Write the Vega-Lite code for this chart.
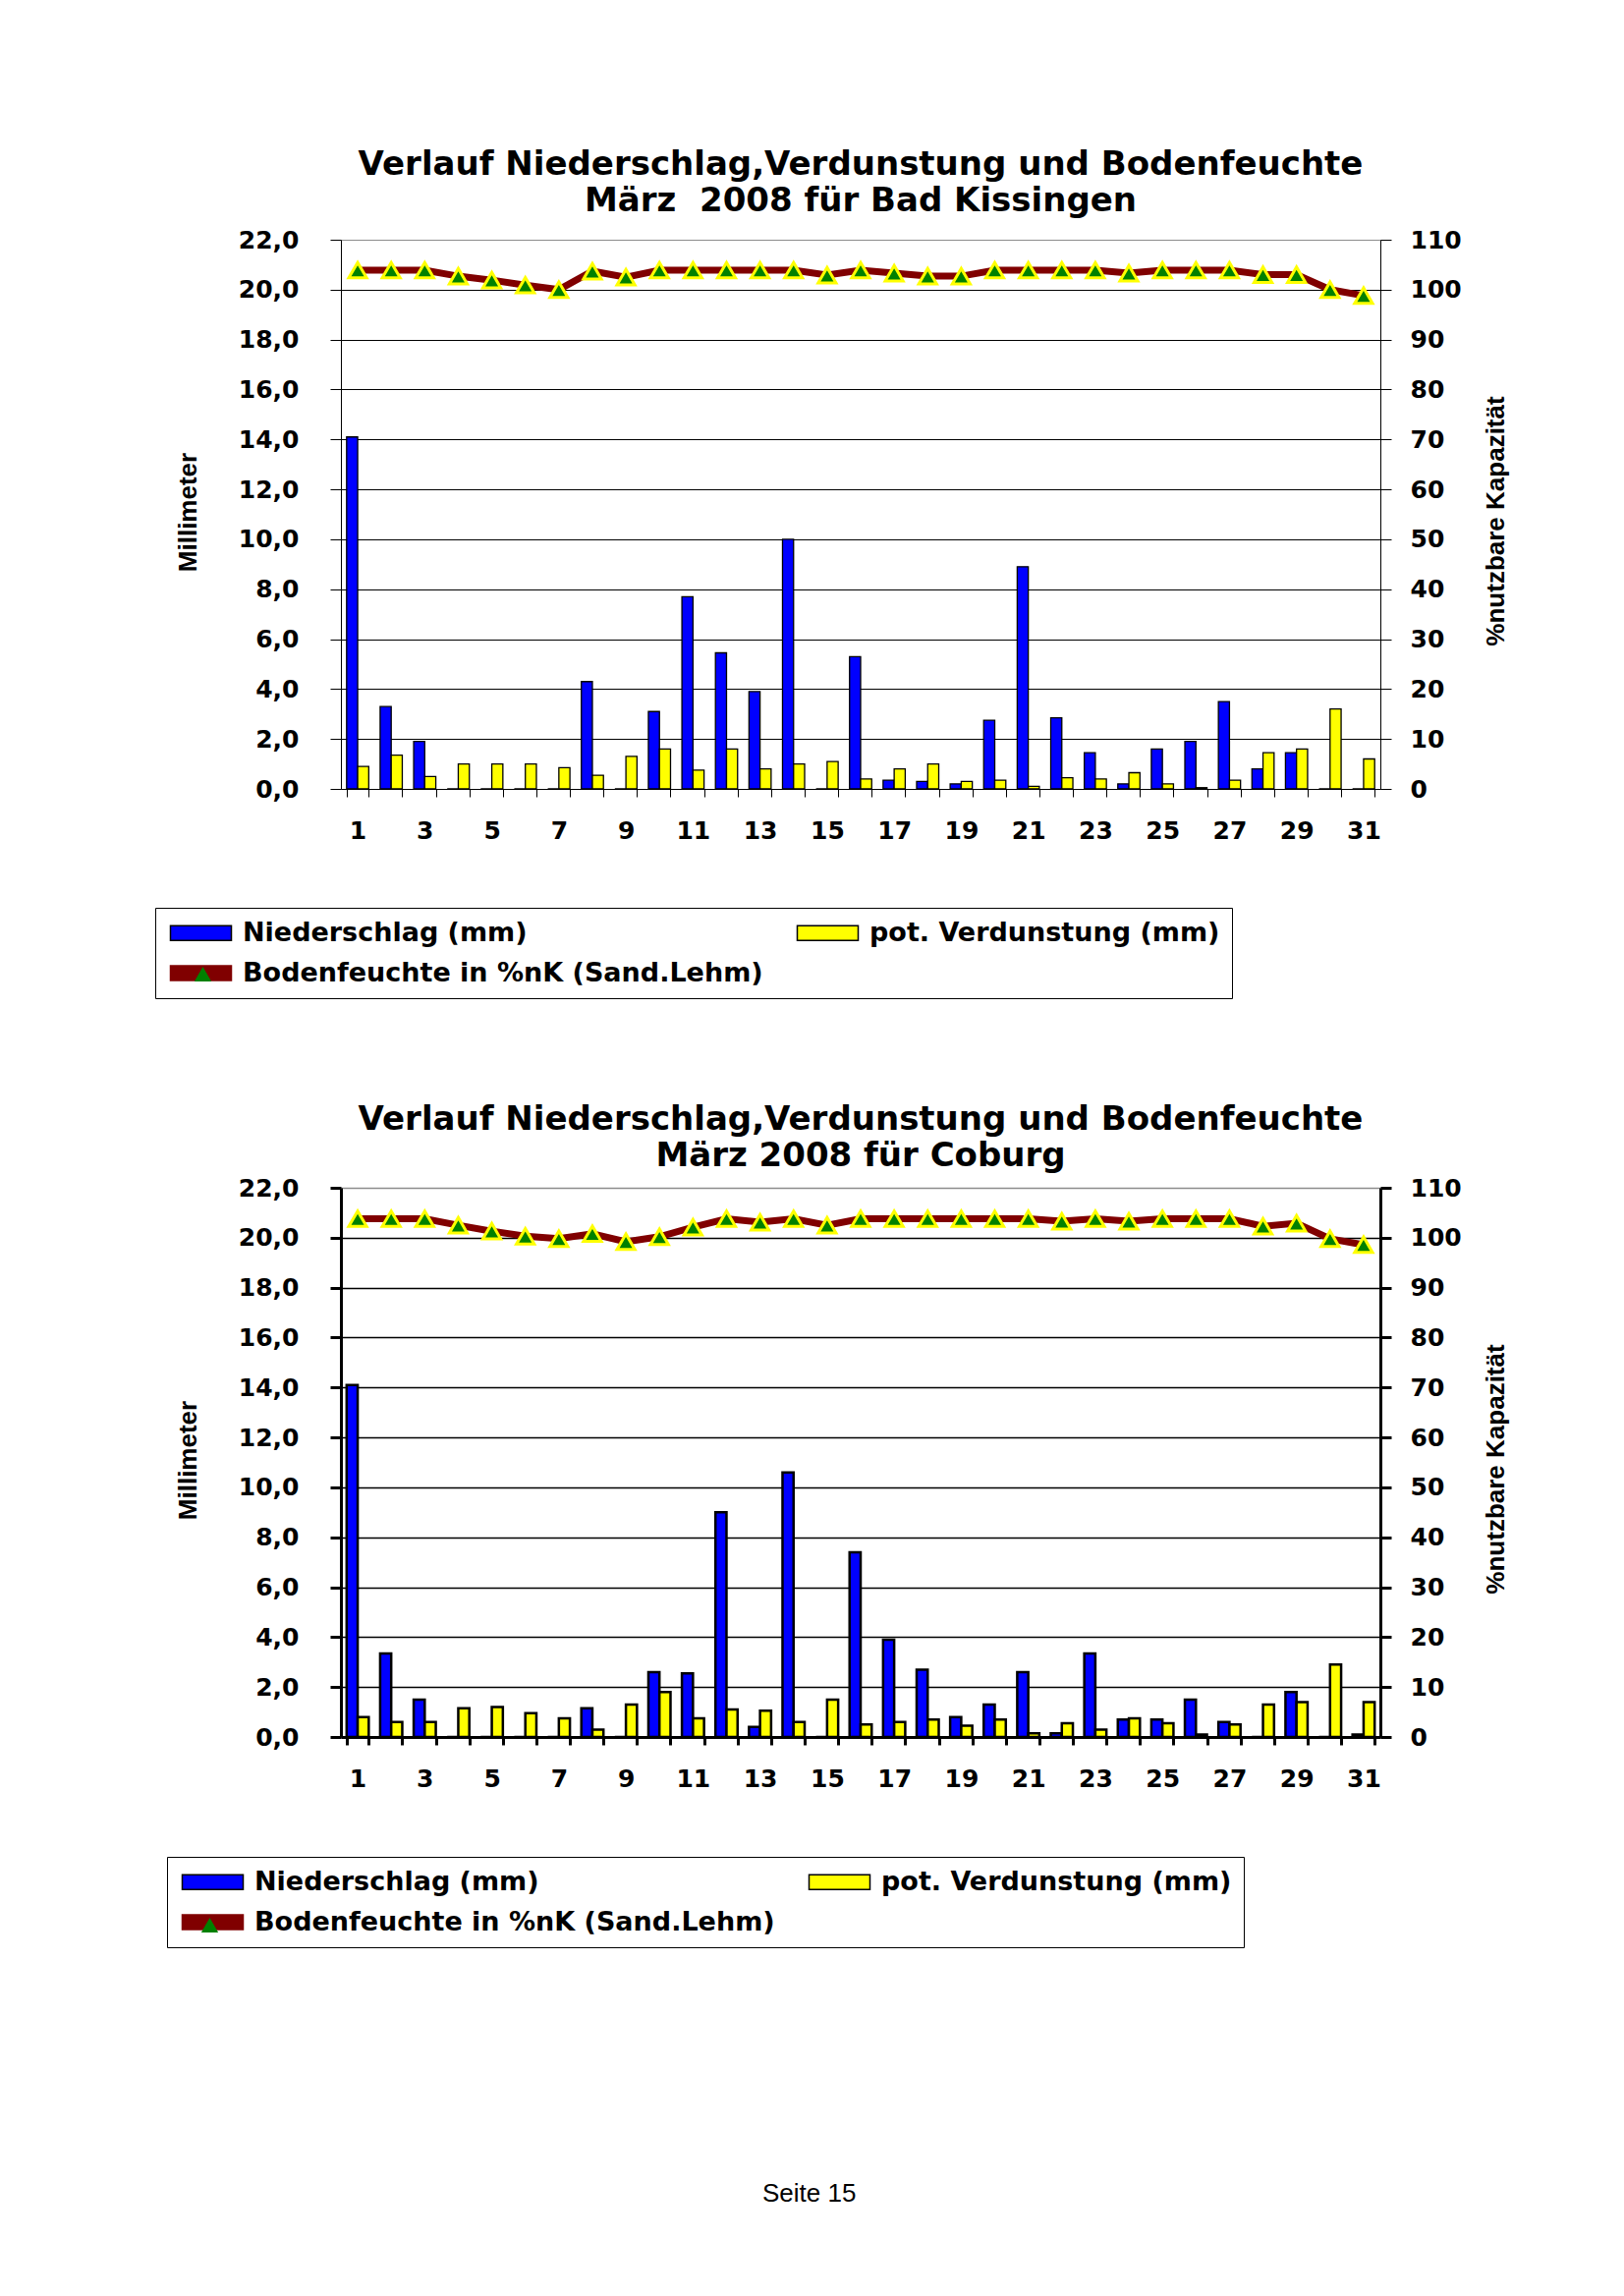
{
  "$schema": "https://vega.github.io/schema/vega-lite/v6.json",
  "background": "white",
  "padding": {"left": 157, "top": 151, "right": 5, "bottom": 5},
  "bounds": "flush",
  "spacing": 406,
  "title": {"text": "Seite 15", "orient": "bottom", "anchor": "start", "frame": "group", "dx": 429, "font": "Liberation Sans", "fontSize": 26, "fontWeight": "normal", "color": "black", "offset": 237},
  "datasets": {
    "kissingen": [
      {"day": 1, "N": 14.1, "V": 0.9, "B": 103.9},
      {"day": 2, "N": 3.3, "V": 1.35, "B": 103.9},
      {"day": 3, "N": 1.9, "V": 0.5, "B": 103.9},
      {"day": 4, "N": 0, "V": 1.0, "B": 102.7},
      {"day": 5, "N": 0, "V": 1.0, "B": 101.9},
      {"day": 6, "N": 0, "V": 1.0, "B": 100.9},
      {"day": 7, "N": 0, "V": 0.85, "B": 100.0},
      {"day": 8, "N": 4.3, "V": 0.55, "B": 103.7},
      {"day": 9, "N": 0, "V": 1.3, "B": 102.5},
      {"day": 10, "N": 3.1, "V": 1.6, "B": 103.9},
      {"day": 11, "N": 7.7, "V": 0.75, "B": 103.9},
      {"day": 12, "N": 5.45, "V": 1.6, "B": 103.9},
      {"day": 13, "N": 3.9, "V": 0.8, "B": 103.9},
      {"day": 14, "N": 10.0, "V": 1.0, "B": 103.9},
      {"day": 15, "N": 0, "V": 1.1, "B": 102.9},
      {"day": 16, "N": 5.3, "V": 0.4, "B": 103.9},
      {"day": 17, "N": 0.35, "V": 0.8, "B": 103.3},
      {"day": 18, "N": 0.3, "V": 1.0, "B": 102.7},
      {"day": 19, "N": 0.2, "V": 0.3, "B": 102.7},
      {"day": 20, "N": 2.75, "V": 0.35, "B": 103.9},
      {"day": 21, "N": 8.9, "V": 0.1, "B": 103.9},
      {"day": 22, "N": 2.85, "V": 0.45, "B": 103.9},
      {"day": 23, "N": 1.45, "V": 0.4, "B": 103.9},
      {"day": 24, "N": 0.2, "V": 0.65, "B": 103.3},
      {"day": 25, "N": 1.6, "V": 0.2, "B": 103.9},
      {"day": 26, "N": 1.9, "V": 0.05, "B": 103.9},
      {"day": 27, "N": 3.5, "V": 0.35, "B": 103.9},
      {"day": 28, "N": 0.8, "V": 1.45, "B": 103.0},
      {"day": 29, "N": 1.45, "V": 1.6, "B": 103.0},
      {"day": 30, "N": 0, "V": 3.2, "B": 100.0},
      {"day": 31, "N": 0, "V": 1.2, "B": 98.8}
    ],
    "coburg": [
      {"day": 1, "N": 14.1, "V": 0.8, "B": 103.8},
      {"day": 2, "N": 3.35, "V": 0.6, "B": 103.8},
      {"day": 3, "N": 1.5, "V": 0.6, "B": 103.8},
      {"day": 4, "N": 0, "V": 1.15, "B": 102.5},
      {"day": 5, "N": 0, "V": 1.2, "B": 101.3},
      {"day": 6, "N": 0, "V": 0.95, "B": 100.3},
      {"day": 7, "N": 0, "V": 0.75, "B": 99.8},
      {"day": 8, "N": 1.15, "V": 0.3, "B": 100.8},
      {"day": 9, "N": 0, "V": 1.3, "B": 99.2},
      {"day": 10, "N": 2.6, "V": 1.8, "B": 100.2},
      {"day": 11, "N": 2.55, "V": 0.75, "B": 102.1},
      {"day": 12, "N": 9.0, "V": 1.1, "B": 103.8},
      {"day": 13, "N": 0.4, "V": 1.05, "B": 103.1},
      {"day": 14, "N": 10.6, "V": 0.6, "B": 103.8},
      {"day": 15, "N": 0, "V": 1.5, "B": 102.5},
      {"day": 16, "N": 7.4, "V": 0.5, "B": 103.8},
      {"day": 17, "N": 3.9, "V": 0.6, "B": 103.8},
      {"day": 18, "N": 2.7, "V": 0.7, "B": 103.8},
      {"day": 19, "N": 0.8, "V": 0.45, "B": 103.8},
      {"day": 20, "N": 1.3, "V": 0.7, "B": 103.8},
      {"day": 21, "N": 2.6, "V": 0.15, "B": 103.8},
      {"day": 22, "N": 0.15, "V": 0.55, "B": 103.3},
      {"day": 23, "N": 3.35, "V": 0.3, "B": 103.8},
      {"day": 24, "N": 0.7, "V": 0.75, "B": 103.3},
      {"day": 25, "N": 0.7, "V": 0.55, "B": 103.8},
      {"day": 26, "N": 1.5, "V": 0.1, "B": 103.8},
      {"day": 27, "N": 0.6, "V": 0.5, "B": 103.8},
      {"day": 28, "N": 0, "V": 1.3, "B": 102.3},
      {"day": 29, "N": 1.8, "V": 1.4, "B": 102.9},
      {"day": 30, "N": 0, "V": 2.9, "B": 99.8},
      {"day": 31, "N": 0.1, "V": 1.4, "B": 98.6}
    ]
  },
  "vconcat": [
    {
      "title": {"text": ["Verlauf Niederschlag,Verdunstung und Bodenfeuchte", "März \u00a02008 für Bad Kissingen"], "font": "DejaVu Sans", "fontSize": 34, "fontWeight": "bold", "lineHeight": 37, "anchor": "middle", "offset": 10, "color": "black"},
      "width": 1058,
      "height": 559,
      "data": {"name": "kissingen"},
      "encoding": {
        "x": {"field": "day", "type": "ordinal", "scale": {"paddingInner": 0.34, "paddingOuter": 0.17},
          "axis": {"title": null, "labelExpr": "datum.value % 2 === 1 ? datum.label : ''", "labelAngle": 0, "labelFont": "DejaVu Sans", "labelFontSize": 25, "labelFontWeight": "bold", "labelColor": "black", "labelPadding": 22, "tickBand": "extent", "tickSize": 8, "tickColor": "black", "tickWidth": 1, "domainColor": "black", "domainWidth": 1, "grid": false}}
      },
      "layer": [
        {
          "transform": [{"fold": ["N", "V"], "as": ["series", "value"]}],
          "mark": {"type": "bar", "strokeWidth": 1.3},
          "encoding": {
            "xOffset": {"field": "series", "type": "nominal", "sort": ["N", "V"], "scale": {"paddingInner": 0, "paddingOuter": 0}},
            "y": {"field": "value", "type": "quantitative", "scale": {"domain": [0, 22], "nice": false, "zero": true},
              "axis": {"title": "Millimeter", "titleFont": "Liberation Sans", "titleFontSize": 26, "titleFontWeight": "bold", "titleColor": "black", "titleX": -156, "titleY": 277, "titleAngle": 270, "titleAlign": "center", "titleBaseline": "middle",
                "values": [0, 2, 4, 6, 8, 10, 12, 14, 16, 18, 20, 22], "labelExpr": "replace(format(datum.value, '.1f'), '.', ',')",
                "labelFont": "DejaVu Sans", "labelFontSize": 25, "labelFontWeight": "bold", "labelColor": "black", "labelPadding": 32,
                "tickSize": 11, "tickColor": "black", "tickWidth": 1, "domainColor": "black", "domainWidth": 1,
                "grid": true, "gridColor": {"condition": {"test": "datum.value === 22", "value": "#8c8c8c"}, "value": "black"}, "gridWidth": 1}},
            "stroke": {"field": "series", "type": "nominal", "scale": {"domain": ["N", "V", "B"], "range": ["black", "black", "#800000"]}},
            "color": {"field": "series", "type": "nominal", "scale": {"domain": ["N", "V", "B"], "range": ["#0000ff", "#ffff00", "#800000"]},
              "legend": {"values": ["N", "V", "B"], "direction": "horizontal", "orient": "none", "legendX": -189, "legendY": 680, "title": null, "columns": 2, "gridAlign": "all", "columnPadding": 31, "rowPadding": 13, "padding": 12,
                "strokeColor": "black", "symbolType": "M-1,-0.75H5.2V0.75H-1Z",
                "symbolSize": 400, "labelOffset": 50, "labelFont": "DejaVu Sans", "labelFontSize": 27, "labelFontWeight": "bold", "labelColor": "black", "labelLimit": 1200,
                "labelExpr": "datum.label === 'N' ? 'Niederschlag (mm)' : datum.label === 'V' ? 'pot. Verdunstung (mm)' : 'Bodenfeuchte in %nK (Sand.Lehm)'"}}
          }
        },
        {
          "encoding": {
            "y": {"field": "B", "type": "quantitative", "scale": {"domain": [0, 110], "nice": false},
              "axis": {"orient": "right", "title": "%nutzbare Kapazität", "titleFont": "Liberation Sans", "titleFontSize": 26, "titleFontWeight": "bold", "titleColor": "black", "titleX": 117, "titleY": 286, "titleAngle": 270, "titleAlign": "center", "titleBaseline": "middle",
                "values": [0, 10, 20, 30, 40, 50, 60, 70, 80, 90, 100, 110], "format": "d",
                "labelFont": "DejaVu Sans", "labelFontSize": 25, "labelFontWeight": "bold", "labelColor": "black", "labelPadding": 19,
                "tickSize": 11, "tickColor": "black", "tickWidth": 1, "domainColor": "black", "domainWidth": 1, "grid": false}}
          },
          "layer": [
            {
              "mark": {"type": "line", "strokeWidth": 7, "color": "#800000"},
              "encoding": {}
            },
            {
              "mark": {"type": "point", "filled": true, "fill": "#008000", "stroke": "#ffff00", "strokeWidth": 3, "size": 330, "opacity": 1},
              "encoding": {
                "shape": {"datum": "B", "type": "nominal", "scale": {"range": ["triangle-up"]},
                  "legend": {"orient": "none", "legendX": -151, "legendY": 737, "title": null, "labelExpr": "''", "padding": 0, "symbolSize": 300, "labelFontSize": 20,
                    "symbolFillColor": "#008000", "symbolStrokeColor": "#ffff00", "symbolStrokeWidth": 3}}
              }
            }
          ]
        }
      ],
      "resolve": {"scale": {"y": "independent"}}
    },
    {
      "title": {"text": ["Verlauf Niederschlag,Verdunstung und Bodenfeuchte", "März 2008 für Coburg"], "font": "DejaVu Sans", "fontSize": 34, "fontWeight": "bold", "lineHeight": 37, "anchor": "middle", "offset": 3, "color": "black"},
      "width": 1058,
      "height": 559,
      "data": {"name": "coburg"},
      "encoding": {
        "x": {"field": "day", "type": "ordinal", "scale": {"paddingInner": 0.34, "paddingOuter": 0.17},
          "axis": {"title": null, "labelExpr": "datum.value % 2 === 1 ? datum.label : ''", "labelAngle": 0, "labelFont": "DejaVu Sans", "labelFontSize": 25, "labelFontWeight": "bold", "labelColor": "black", "labelPadding": 22, "tickBand": "extent", "tickSize": 8, "tickColor": "black", "tickWidth": 3, "domainColor": "black", "domainWidth": 3, "grid": false}}
      },
      "layer": [
        {
          "transform": [{"fold": ["N", "V"], "as": ["series", "value"]}],
          "mark": {"type": "bar", "strokeWidth": 2.5},
          "encoding": {
            "xOffset": {"field": "series", "type": "nominal", "sort": ["N", "V"], "scale": {"paddingInner": 0, "paddingOuter": 0}},
            "y": {"field": "value", "type": "quantitative", "scale": {"domain": [0, 22], "nice": false, "zero": true},
              "axis": {"title": "Millimeter", "titleFont": "Liberation Sans", "titleFontSize": 26, "titleFontWeight": "bold", "titleColor": "black", "titleX": -156, "titleY": 277, "titleAngle": 270, "titleAlign": "center", "titleBaseline": "middle",
                "values": [0, 2, 4, 6, 8, 10, 12, 14, 16, 18, 20, 22], "labelExpr": "replace(format(datum.value, '.1f'), '.', ',')",
                "labelFont": "DejaVu Sans", "labelFontSize": 25, "labelFontWeight": "bold", "labelColor": "black", "labelPadding": 32,
                "tickSize": 11, "tickColor": "black", "tickWidth": 3, "domainColor": "black", "domainWidth": 3,
                "grid": true, "gridColor": {"condition": {"test": "datum.value === 22", "value": "#8c8c8c"}, "value": "black"}, "gridWidth": 1.5}},
            "stroke": {"field": "series", "type": "nominal", "scale": {"domain": ["N", "V", "B"], "range": ["black", "black", "#800000"]}},
            "color": {"field": "series", "type": "nominal", "scale": {"domain": ["N", "V", "B"], "range": ["#0000ff", "#ffff00", "#800000"]},
              "legend": {"values": ["N", "V", "B"], "direction": "horizontal", "orient": "none", "legendX": -177, "legendY": 681, "title": null, "columns": 2, "gridAlign": "all", "columnPadding": 31, "rowPadding": 13, "padding": 12,
                "strokeColor": "black", "symbolType": "M-1,-0.75H5.2V0.75H-1Z",
                "symbolSize": 400, "labelOffset": 50, "labelFont": "DejaVu Sans", "labelFontSize": 27, "labelFontWeight": "bold", "labelColor": "black", "labelLimit": 1200,
                "labelExpr": "datum.label === 'N' ? 'Niederschlag (mm)' : datum.label === 'V' ? 'pot. Verdunstung (mm)' : 'Bodenfeuchte in %nK (Sand.Lehm)'"}}
          }
        },
        {
          "encoding": {
            "y": {"field": "B", "type": "quantitative", "scale": {"domain": [0, 110], "nice": false},
              "axis": {"orient": "right", "title": "%nutzbare Kapazität", "titleFont": "Liberation Sans", "titleFontSize": 26, "titleFontWeight": "bold", "titleColor": "black", "titleX": 117, "titleY": 286, "titleAngle": 270, "titleAlign": "center", "titleBaseline": "middle",
                "values": [0, 10, 20, 30, 40, 50, 60, 70, 80, 90, 100, 110], "format": "d",
                "labelFont": "DejaVu Sans", "labelFontSize": 25, "labelFontWeight": "bold", "labelColor": "black", "labelPadding": 19,
                "tickSize": 11, "tickColor": "black", "tickWidth": 3, "domainColor": "black", "domainWidth": 3, "grid": false}}
          },
          "layer": [
            {
              "mark": {"type": "line", "strokeWidth": 7, "color": "#800000"},
              "encoding": {}
            },
            {
              "mark": {"type": "point", "filled": true, "fill": "#008000", "stroke": "#ffff00", "strokeWidth": 3, "size": 330, "opacity": 1},
              "encoding": {
                "shape": {"datum": "B", "type": "nominal", "scale": {"range": ["triangle-up"]},
                  "legend": {"orient": "none", "legendX": -144, "legendY": 740, "title": null, "labelExpr": "''", "padding": 0, "symbolSize": 300, "labelFontSize": 20,
                    "symbolFillColor": "#008000", "symbolStrokeColor": "#ffff00", "symbolStrokeWidth": 3}}
              }
            }
          ]
        }
      ],
      "resolve": {"scale": {"y": "independent"}}
    }
  ],
  "resolve": {"scale": {"color": "independent", "stroke": "independent", "shape": "independent"}, "legend": {"color": "independent", "stroke": "independent", "shape": "independent"}},
  "config": {"view": {"stroke": null}, "font": "DejaVu Sans"}
}
